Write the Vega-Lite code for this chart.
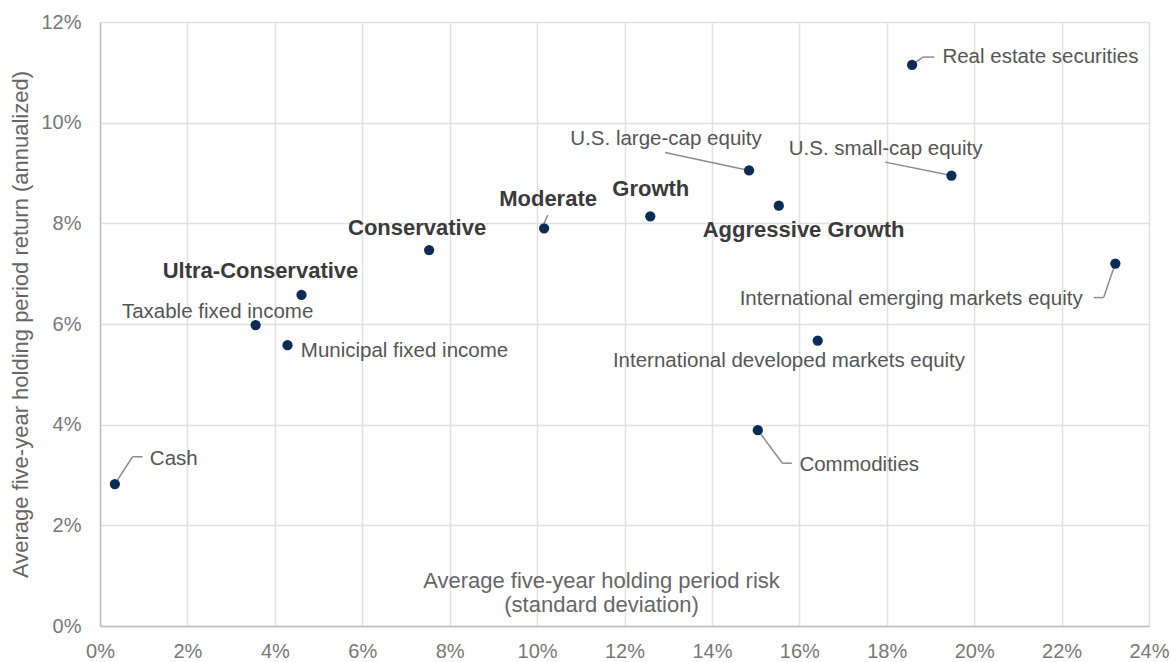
{
  "$schema": "https://vega.github.io/schema/vega-lite/v6.json",
  "width": 1049,
  "height": 604,
  "autosize": {"type": "none"},
  "padding": {"left": 100, "top": 22, "right": 21, "bottom": 36},
  "background": "white",
  "config": {
    "font": "Liberation Sans",
    "view": {"stroke": null}
  },
  "data": {
    "values": [
      {"name": "Cash", "kind": "Asset class", "risk": 0.34, "ret": 2.82},
      {"name": "Taxable fixed income", "kind": "Asset class", "risk": 3.56, "ret": 5.98},
      {"name": "Municipal fixed income", "kind": "Asset class", "risk": 4.29, "ret": 5.58},
      {"name": "Ultra-Conservative", "kind": "Portfolio", "risk": 4.61, "ret": 6.58},
      {"name": "Conservative", "kind": "Portfolio", "risk": 7.53, "ret": 7.47},
      {"name": "Moderate", "kind": "Portfolio", "risk": 10.16, "ret": 7.9},
      {"name": "Growth", "kind": "Portfolio", "risk": 12.59, "ret": 8.14},
      {"name": "U.S. large-cap equity", "kind": "Asset class", "risk": 14.85, "ret": 9.05},
      {"name": "Aggressive Growth", "kind": "Portfolio", "risk": 15.53, "ret": 8.35},
      {"name": "U.S. small-cap equity", "kind": "Asset class", "risk": 19.48, "ret": 8.95},
      {"name": "Real estate securities", "kind": "Asset class", "risk": 18.58, "ret": 11.15},
      {"name": "International emerging markets equity", "kind": "Asset class", "risk": 23.23, "ret": 7.2},
      {"name": "International developed markets equity", "kind": "Asset class", "risk": 16.42, "ret": 5.67},
      {"name": "Commodities", "kind": "Asset class", "risk": 15.05, "ret": 3.89}
    ]
  },
  "encoding": {
    "x": {
      "field": "risk",
      "type": "quantitative",
      "scale": {"domain": [0, 24], "nice": false, "zero": true},
      "axis": {
        "values": [0, 2, 4, 6, 8, 10, 12, 14, 16, 18, 20, 22, 24],
        "labelExpr": "datum.value + '%'",
        "labelFontSize": 20,
        "labelColor": "#777777",
        "labelPadding": 15,
        "labelFlush": false,
        "labelOverlap": false,
        "ticks": false,
        "domainColor": "#bfbfbf",
        "domainWidth": 1.5,
        "gridColor": "#e0e0e0",
        "gridWidth": 1.5,
        "title": ["Average five-year holding period risk", "(standard deviation)"],
        "titleFontSize": 22,
        "titleFontWeight": "normal",
        "titleColor": "#666666",
        "titleX": 501,
        "titleY": -39,
        "titleAlign": "center",
        "titleBaseline": "alphabetic",
        "titleLineHeight": 24.5
      }
    },
    "y": {
      "field": "ret",
      "type": "quantitative",
      "scale": {"domain": [0, 12], "nice": false, "zero": true},
      "axis": {
        "values": [0, 2, 4, 6, 8, 10, 12],
        "labelExpr": "datum.value + '%'",
        "labelFontSize": 20,
        "labelColor": "#777777",
        "labelPadding": 19,
        "labelFlush": false,
        "labelOverlap": false,
        "ticks": false,
        "domainColor": "#bfbfbf",
        "domainWidth": 1.5,
        "gridColor": "#e0e0e0",
        "gridWidth": 1.5,
        "title": "Average five-year holding period return (annualized)",
        "titleFontSize": 22,
        "titleFontWeight": "normal",
        "titleColor": "#666666",
        "titlePadding": 8
      }
    }
  },
  "layer": [
    {
      "transform": [{"filter": "datum.name === 'Cash'"}],
      "mark": {"type": "rule", "color": "#8c8c8c", "strokeWidth": 1.5, "x2Offset": 17.7, "y2Offset": -27.3},
      "encoding": {"x2": {"field": "risk"}, "y2": {"field": "ret"}}
    },
    {
      "transform": [{"filter": "datum.name === 'Cash'"}],
      "mark": {"type": "rule", "color": "#8c8c8c", "strokeWidth": 1.5, "xOffset": 17.7, "yOffset": -27.3, "x2Offset": 27.7, "y2Offset": -27.3},
      "encoding": {"x2": {"field": "risk"}, "y2": {"field": "ret"}}
    },
    {
      "transform": [{"filter": "datum.name === 'Moderate'"}],
      "mark": {"type": "rule", "color": "#8c8c8c", "strokeWidth": 1.5, "yOffset": -5, "x2Offset": 3.7, "y2Offset": -13.3},
      "encoding": {"x2": {"field": "risk"}, "y2": {"field": "ret"}}
    },
    {
      "transform": [{"filter": "datum.name === 'U.S. large-cap equity'"}],
      "mark": {"type": "rule", "color": "#8c8c8c", "strokeWidth": 1.5, "x2Offset": -84, "y2Offset": -18},
      "encoding": {"x2": {"field": "risk"}, "y2": {"field": "ret"}}
    },
    {
      "transform": [{"filter": "datum.name === 'Real estate securities'"}],
      "mark": {"type": "rule", "color": "#8c8c8c", "strokeWidth": 1.5, "x2Offset": 10.7, "y2Offset": -7.7},
      "encoding": {"x2": {"field": "risk"}, "y2": {"field": "ret"}}
    },
    {
      "transform": [{"filter": "datum.name === 'Real estate securities'"}],
      "mark": {"type": "rule", "color": "#8c8c8c", "strokeWidth": 1.5, "xOffset": 10.7, "yOffset": -7.7, "x2Offset": 22.3, "y2Offset": -7.7},
      "encoding": {"x2": {"field": "risk"}, "y2": {"field": "ret"}}
    },
    {
      "transform": [{"filter": "datum.name === 'U.S. small-cap equity'"}],
      "mark": {"type": "rule", "color": "#8c8c8c", "strokeWidth": 1.5, "x2Offset": -66.3, "y2Offset": -13.4},
      "encoding": {"x2": {"field": "risk"}, "y2": {"field": "ret"}}
    },
    {
      "transform": [{"filter": "datum.name === 'International emerging markets equity'"}],
      "mark": {"type": "rule", "color": "#8c8c8c", "strokeWidth": 1.5, "x2Offset": -11.7, "y2Offset": 34},
      "encoding": {"x2": {"field": "risk"}, "y2": {"field": "ret"}}
    },
    {
      "transform": [{"filter": "datum.name === 'International emerging markets equity'"}],
      "mark": {"type": "rule", "color": "#8c8c8c", "strokeWidth": 1.5, "xOffset": -11.7, "yOffset": 34, "x2Offset": -21.7, "y2Offset": 34},
      "encoding": {"x2": {"field": "risk"}, "y2": {"field": "ret"}}
    },
    {
      "transform": [{"filter": "datum.name === 'Commodities'"}],
      "mark": {"type": "rule", "color": "#8c8c8c", "strokeWidth": 1.5, "x2Offset": 24.6, "y2Offset": 33},
      "encoding": {"x2": {"field": "risk"}, "y2": {"field": "ret"}}
    },
    {
      "transform": [{"filter": "datum.name === 'Commodities'"}],
      "mark": {"type": "rule", "color": "#8c8c8c", "strokeWidth": 1.5, "xOffset": 24.6, "yOffset": 33, "x2Offset": 34, "y2Offset": 33},
      "encoding": {"x2": {"field": "risk"}, "y2": {"field": "ret"}}
    },
    {
      "mark": {"type": "point", "filled": true, "size": 105, "color": "#0a2d57", "opacity": 1}
    },
    {
      "transform": [{"filter": "datum.name === 'Cash'"}],
      "mark": {"type": "text", "align": "left", "baseline": "alphabetic", "dx": 35, "dy": -18.6, "fontSize": 20.5, "color": "#555555"},
      "encoding": {"text": {"field": "name"}}
    },
    {
      "transform": [{"filter": "datum.name === 'Taxable fixed income'"}],
      "mark": {"type": "text", "align": "center", "baseline": "alphabetic", "dx": -38, "dy": -6.7, "fontSize": 20.5, "color": "#555555"},
      "encoding": {"text": {"field": "name"}}
    },
    {
      "transform": [{"filter": "datum.name === 'Municipal fixed income'"}],
      "mark": {"type": "text", "align": "left", "baseline": "alphabetic", "dx": 13.3, "dy": 11.7, "fontSize": 20.5, "color": "#555555"},
      "encoding": {"text": {"field": "name"}}
    },
    {
      "transform": [{"filter": "datum.name === 'U.S. large-cap equity'"}],
      "mark": {"type": "text", "align": "center", "baseline": "alphabetic", "dx": -83, "dy": -25.7, "fontSize": 20.5, "color": "#555555"},
      "encoding": {"text": {"field": "name"}}
    },
    {
      "transform": [{"filter": "datum.name === 'U.S. small-cap equity'"}],
      "mark": {"type": "text", "align": "center", "baseline": "alphabetic", "dx": -65.8, "dy": -20.7, "fontSize": 20.5, "color": "#555555"},
      "encoding": {"text": {"field": "name"}}
    },
    {
      "transform": [{"filter": "datum.name === 'Real estate securities'"}],
      "mark": {"type": "text", "align": "left", "baseline": "alphabetic", "dx": 30.3, "dy": -1.7, "fontSize": 20.5, "color": "#555555"},
      "encoding": {"text": {"field": "name"}}
    },
    {
      "transform": [{"filter": "datum.name === 'International emerging markets equity'"}],
      "mark": {"type": "text", "align": "right", "baseline": "alphabetic", "dx": -32.7, "dy": 41.3, "fontSize": 20.5, "color": "#555555"},
      "encoding": {"text": {"field": "name"}}
    },
    {
      "transform": [{"filter": "datum.name === 'International developed markets equity'"}],
      "mark": {"type": "text", "align": "center", "baseline": "alphabetic", "dx": -28.7, "dy": 26.6, "fontSize": 20.5, "color": "#555555"},
      "encoding": {"text": {"field": "name"}}
    },
    {
      "transform": [{"filter": "datum.name === 'Commodities'"}],
      "mark": {"type": "text", "align": "left", "baseline": "alphabetic", "dx": 41.6, "dy": 40.4, "fontSize": 20.5, "color": "#555555"},
      "encoding": {"text": {"field": "name"}}
    },
    {
      "transform": [{"filter": "datum.name === 'Ultra-Conservative'"}],
      "mark": {"type": "text", "align": "center", "baseline": "alphabetic", "dx": -41, "dy": -17, "fontSize": 22, "fontWeight": "bold", "color": "#3a3a3a"},
      "encoding": {"text": {"field": "name"}}
    },
    {
      "transform": [{"filter": "datum.name === 'Conservative'"}],
      "mark": {"type": "text", "align": "center", "baseline": "alphabetic", "dx": -12, "dy": -15, "fontSize": 22, "fontWeight": "bold", "color": "#3a3a3a"},
      "encoding": {"text": {"field": "name"}}
    },
    {
      "transform": [{"filter": "datum.name === 'Moderate'"}],
      "mark": {"type": "text", "align": "center", "baseline": "alphabetic", "dx": 4, "dy": -22.6, "fontSize": 22, "fontWeight": "bold", "color": "#3a3a3a"},
      "encoding": {"text": {"field": "name"}}
    },
    {
      "transform": [{"filter": "datum.name === 'Growth'"}],
      "mark": {"type": "text", "align": "center", "baseline": "alphabetic", "dx": 0.5, "dy": -20.6, "fontSize": 22, "fontWeight": "bold", "color": "#3a3a3a"},
      "encoding": {"text": {"field": "name"}}
    },
    {
      "transform": [{"filter": "datum.name === 'Aggressive Growth'"}],
      "mark": {"type": "text", "align": "center", "baseline": "alphabetic", "dx": 24.8, "dy": 31, "fontSize": 22, "fontWeight": "bold", "color": "#3a3a3a"},
      "encoding": {"text": {"field": "name"}}
    }
  ]
}
